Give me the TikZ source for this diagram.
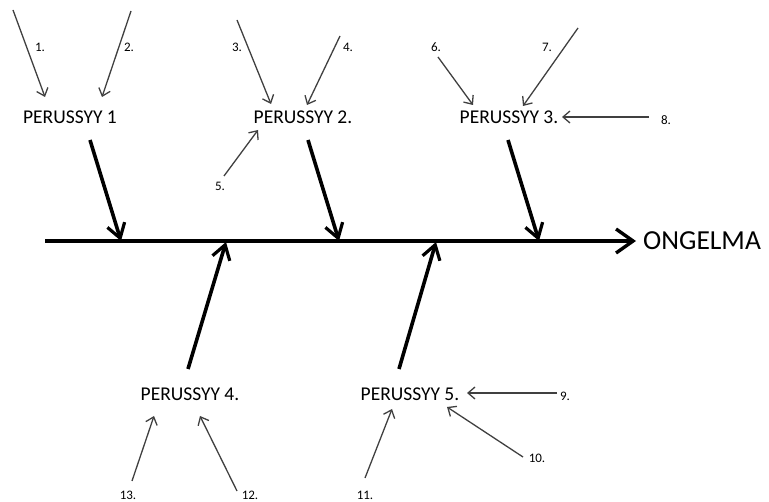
\documentclass[tikz,border=0pt]{standalone}
\usepackage{fontspec}
\setmainfont{Carlito}
\usetikzlibrary{arrows.meta}

\begin{document}
\begin{tikzpicture}[x=1pt, y=-1pt,
    cause/.style={font=\fontsize{19.5}{21}\selectfont, inner sep=1pt},
    num/.style={font=\fontsize{13}{15}\selectfont, inner sep=0pt},
    spine/.style={line width=3.6pt, -{Straight Barb[length=17pt, width=24pt, line width=3.4pt]}},
    bone/.style={line width=3.6pt, -{Straight Barb[length=14pt, width=18pt, line width=3.2pt]}},
    sub/.style={line width=1.3pt, draw=black!75, -{Straight Barb[length=7pt, width=12pt, line width=1.3pt]}}]
    \useasboundingbox (0,0) rectangle (769,502);

    % main line
    \coordinate (s0) at (45,241);
    \coordinate (s1) at (636,241);
    \node[font=\fontsize{27.5}{30}\selectfont, anchor=west, inner sep=0pt] (goal) at (643,241) {ONGELMA};
    \draw[spine] (s0) -- (s1);

    % causes
    \node[cause] (p1) at (70,117) {PERUSSYY 1};
    \node[cause] (p2) at (303,117) {PERUSSYY 2.};
    \node[cause] (p3) at (509,117) {PERUSSYY 3.};
    \node[cause] (p4) at (190,394) {PERUSSYY 4.};
    \node[cause] (p5) at (410,394) {PERUSSYY 5.};

    % bones into the main line
    \coordinate (b1) at (90,140);  \coordinate (j1) at (121,241);
    \coordinate (b2) at (308,140); \coordinate (j2) at (339,241);
    \coordinate (b3) at (508,140); \coordinate (j3) at (539,241);
    \coordinate (b4) at (188,369); \coordinate (j4) at (226,242);
    \coordinate (b5) at (399,369); \coordinate (j5) at (436,242);
    \foreach \i in {1,...,5}
      \draw[bone] (b\i) -- (j\i);

    % sub causes
    \node[num] (n1) at (40,47) {1.};
    \node[num] (n2) at (129,47) {2.};
    \node[num] (n3) at (237,47) {3.};
    \node[num] (n4) at (348,47) {4.};
    \node[num] (n5) at (220,186) {5.};
    \node[num] (n6) at (436,47) {6.};
    \node[num] (n7) at (547,47) {7.};
    \node[num] (n8) at (666,120) {8.};
    \node[num] (n9) at (565,396) {9.};
    \node[num] (n10) at (537,458) {10.};
    \node[num] (n11) at (365,495) {11.};
    \node[num] (n12) at (250,495) {12.};
    \node[num] (n13) at (128,495) {13.};

    \coordinate (t1) at (13,10);   \coordinate (h1) at (45,97);
    \coordinate (t2) at (131,11);  \coordinate (h2) at (102,97);
    \coordinate (t3) at (237,20);  \coordinate (h3) at (271,104);
    \coordinate (t4) at (340,36);  \coordinate (h4) at (307,105);
    \coordinate (t5) at (224,176); \coordinate (h5) at (258,130);
    \coordinate (t6) at (438,57);  \coordinate (h6) at (473,105);
    \coordinate (t7) at (578,28);  \coordinate (h7) at (523,106);
    \coordinate (t8) at (649,117); \coordinate (h8) at (562,117);
    \coordinate (t9) at (557,393); \coordinate (h9) at (467,393);
    \coordinate (t10) at (523,457); \coordinate (h10) at (447,407);
    \coordinate (t11) at (365,478); \coordinate (h11) at (392,409);
    \coordinate (t12) at (237,491); \coordinate (h12) at (200,416);
    \coordinate (t13) at (132,481); \coordinate (h13) at (154,416);
    \foreach \i in {1,...,13}
      \draw[sub] (t\i) -- (h\i);
\end{tikzpicture}
\end{document}
